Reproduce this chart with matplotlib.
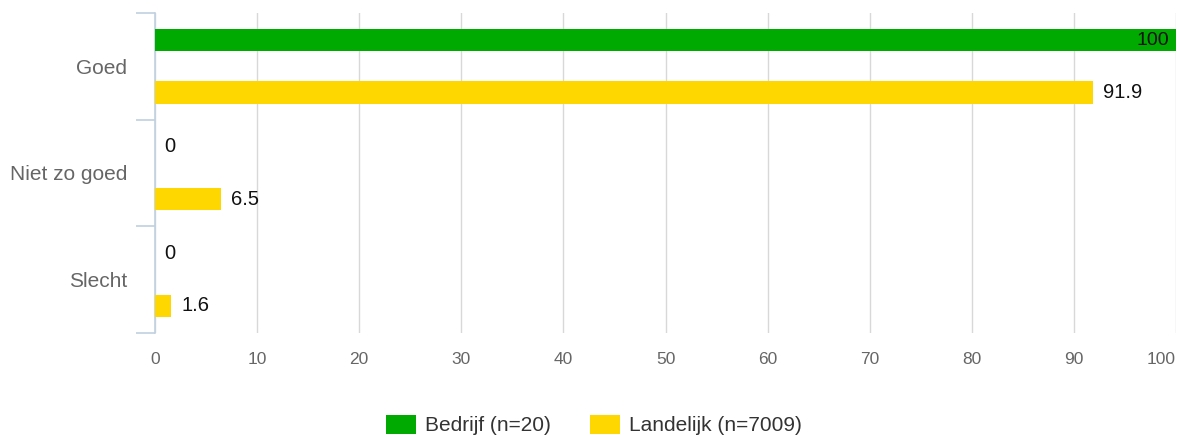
import matplotlib
matplotlib.use("Agg")
import matplotlib.pyplot as plt
from matplotlib.patches import Patch

categories = ["Goed", "Niet zo goed", "Slecht"]
bedrijf = [100, 0, 0]
landelijk = [91.9, 6.5, 1.6]
series_names = ["Bedrijf (n=20)", "Landelijk (n=7009)"]
colors = ["#00AA00", "#FFD700"]
xticks = list(range(0, 101, 10))

plt.rcParams['font.family'] = ['Liberation Sans', 'DejaVu Sans']

W, H = 1179, 437
fig = plt.figure(figsize=(W / 100, H / 100), dpi=100)
ax = fig.add_axes([155 / W, 1 - 333 / H, (1176 - 155) / W, (333 - 13) / H])

n = len(categories)
ypos = list(range(n))
off = 0.245
bh = 0.21

for i, (b, l) in enumerate(zip(bedrijf, landelijk)):
    ax.barh(i - off, b, height=bh, color=colors[0], zorder=3)
    ax.barh(i + off, l, height=bh, color=colors[1], zorder=3)
    for val, y in ((b, i - off), (l, i + off)):
        txt = f"{val:g}"
        if val >= 99:
            ax.annotate(txt, (val, y), xytext=(-5, 0), textcoords="offset points",
                        ha="right", va="center", fontsize=14, color="#111111", zorder=5)
        else:
            ax.annotate(txt, (val, y), xytext=(7, 0), textcoords="offset points",
                        ha="left", va="center", fontsize=14.5, color="#111111", zorder=5)

ax.set_xlim(0, 100)
ax.set_ylim(n - 0.5, -0.5)
ax.set_xticks(xticks)
ax.set_xticklabels([str(t) for t in xticks], fontsize=12.5, color="#666666")
for lab in ax.get_xticklabels()[-1:]:
    lab.set_horizontalalignment("right")
ax.tick_params(axis="x", length=0, pad=14)
ax.set_yticks(ypos)
ax.set_yticklabels(categories, fontsize=15, color="#666666")
ax.tick_params(axis="y", length=0, pad=20)
# category boundary ticks
ax.set_yticks([k - 0.5 for k in range(n + 1)], minor=True)
ax.tick_params(axis="y", which="minor", length=14, color="#C0D0E0", width=1.2)

ax.grid(axis="x", color="#D8D8D8", linewidth=1, zorder=0)
for s in ["top", "right", "bottom"]:
    ax.spines[s].set_visible(False)
ax.spines["left"].set_color("#C0D0E0")
ax.spines["left"].set_linewidth(1.2)

handles = [Patch(facecolor=c, edgecolor="none") for c in colors]
fig.legend(handles, series_names, loc="center", bbox_to_anchor=(594 / W, 1 - 425 / H),
           ncol=2, frameon=False, fontsize=15, labelcolor="#333333",
           handlelength=1.45, handleheight=1.05, columnspacing=1.9, handletextpad=0.4)

fig.savefig("out.png", dpi=100)
